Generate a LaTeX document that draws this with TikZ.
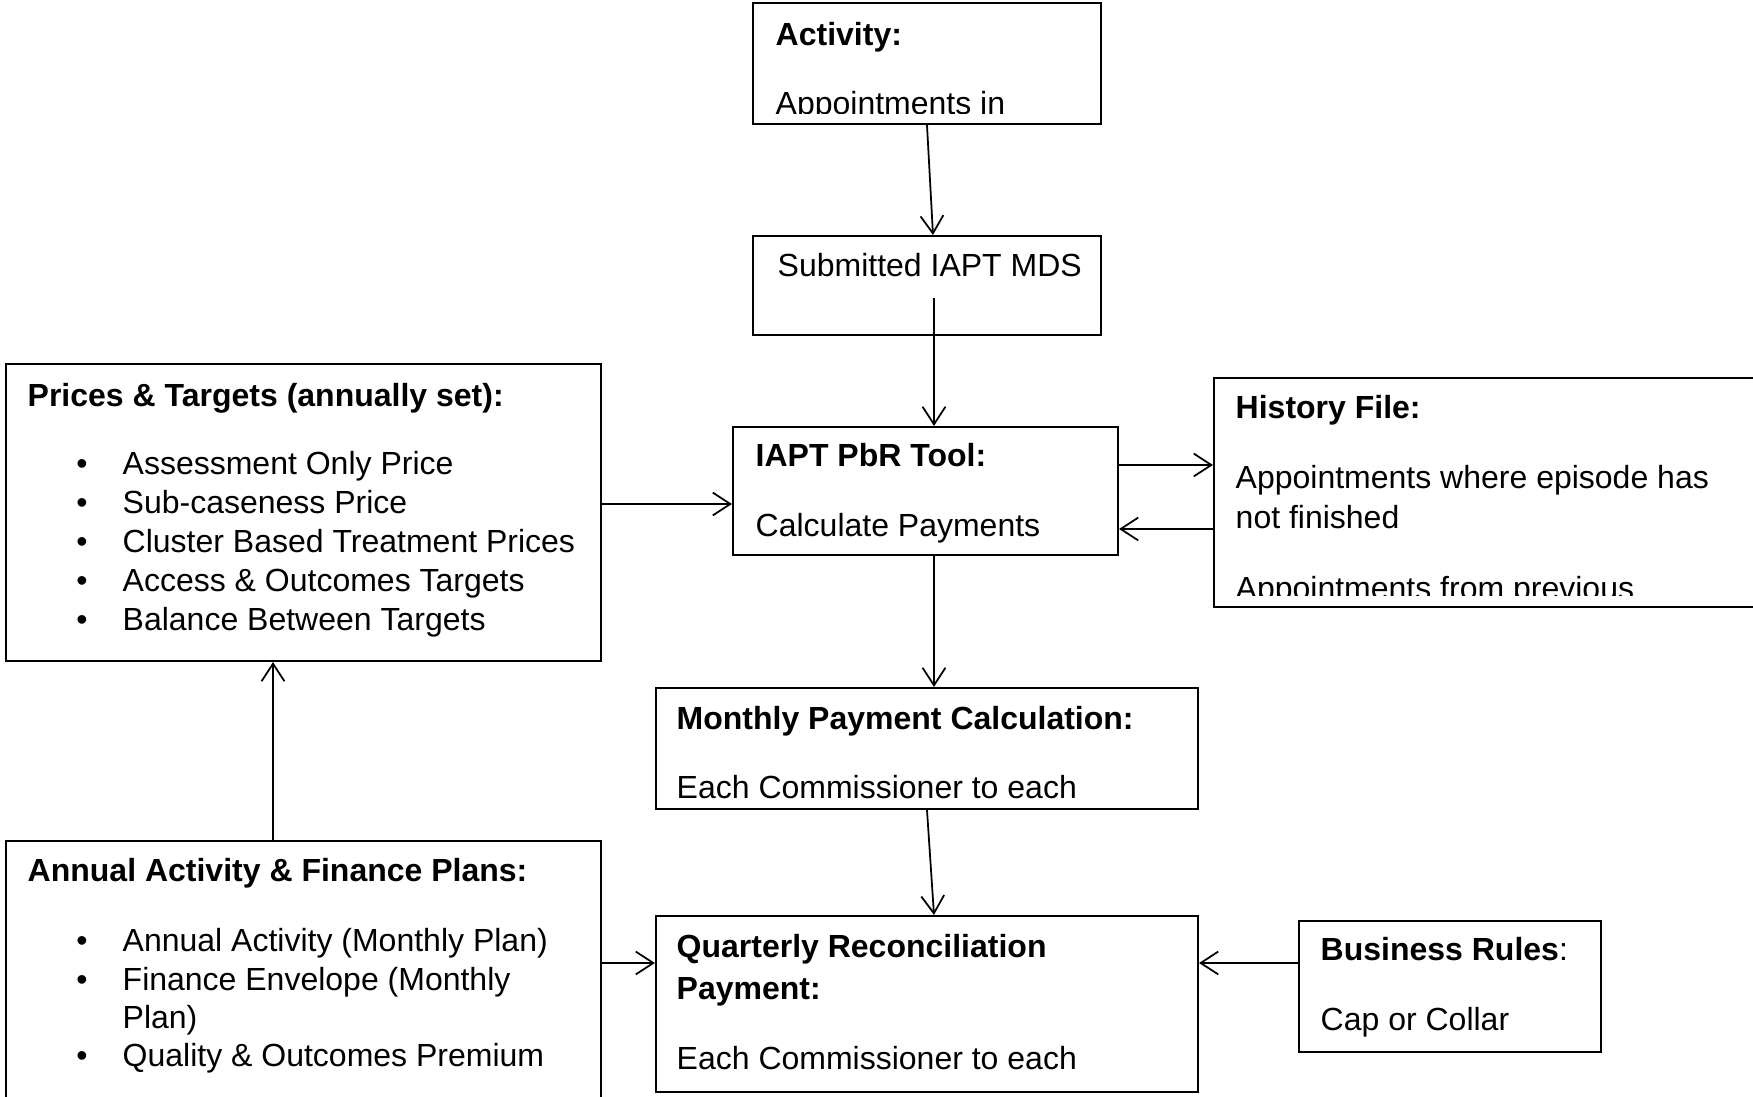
\documentclass[tikz,border=0pt]{standalone}
\usepackage{fontspec}
\setmainfont{Liberation Sans}
\usetikzlibrary{fit,arrows.meta}

\tikzset{
  box/.style={draw, line width=0.6pt, inner sep=0pt},
  txt/.style={anchor=base west, inner sep=0pt, font=\fontsize{9.1}{11}\selectfont},
  head/.style={txt, font=\fontsize{9.1}{11}\selectfont\bfseries},
  dot/.style={txt, anchor=base},
  arr/.style={-{Straight Barb[length=5pt,width=6.5pt]}, line width=0.5pt},
}

\begin{document}
\begin{tikzpicture}[x=0.01cm, y=-0.01cm]
  \useasboundingbox (0,0) rectangle (1753,1097);
  \clip (0,0) rectangle (1753,1097);

  % boxes
  \node[box, fit={(753,3) (1101,124)}] (act) {};
  \node[box, fit={(753,236) (1101,335)}] (sub) {};
  \node[box, fit={(6,364) (601,661)}] (pri) {};
  \node[box, fit={(733,427) (1118,555)}] (pbr) {};
  \node[box, fit={(1214,378) (1770,607)}] (his) {};
  \node[box, fit={(656,688) (1198,809)}] (mon) {};
  \node[box, fit={(656,916) (1198,1092)}] (qua) {};
  \node[box, fit={(1299,921) (1601,1052)}] (bus) {};
  \node[box, fit={(6,841) (601,1120)}] (ann) {};

  % activity (text cut off at the bottom)
  \begin{scope}
    \clip (753,3) rectangle (1101,114);
    \node[head] (act-h) at (775,46) {Activity:};
    \node[txt] (act-t) at (775,115) {Appointments in};
  \end{scope}

  \node[txt] (sub-t) at (777,277) {Submitted IAPT MDS};

  % prices and targets
  \node[head] (pri-h) at (27,407) {Prices \& Targets (annually set):};
  \foreach \yy/\lbl [count=\k] in {475/{Assessment Only Price},
      514/{Sub-caseness Price}, 553/{Cluster Based Treatment Prices},
      592/{Access \& Outcomes Targets}, 631/{Balance Between Targets}} {
    \node[dot] (pri-d\k) at (82,\yy) {\textbullet};
    \node[txt] (pri-t\k) at (122,\yy) {\lbl};
  }

  \node[head] (pbr-h) at (755,467) {IAPT PbR Tool:};
  \node[txt] (pbr-t) at (755,537) {Calculate Payments};

  % history file (text cut off at the bottom)
  \begin{scope}
    \clip (1214,378) rectangle (1753,596);
    \node[head] (his-h) at (1235,419) {History File:};
    \node[txt] (his-t1) at (1235,489) {Appointments where episode has};
    \node[txt] (his-t2) at (1235,529) {not finished};
    \node[txt] (his-t3) at (1235,600) {Appointments from previous};
  \end{scope}

  \node[head] (mon-h) at (676,730) {Monthly Payment Calculation:};
  \node[txt] (mon-t) at (676,799) {Each Commissioner to each};

  \node[head] (qua-h1) at (676,958) {Quarterly Reconciliation};
  \node[head] (qua-h2) at (676,999) {Payment:};
  \node[txt] (qua-t) at (676,1069) {Each Commissioner to each};

  \node[txt] (bus-h) at (1320,961) {\textbf{Business Rules}:};
  \node[txt] (bus-t) at (1320,1031) {Cap or Collar};

  % annual plans
  \node[head] (ann-h) at (27,882) {Annual Activity \& Finance Plans:};
  \foreach \yy/\lbl [count=\k] in {952/{Annual Activity (Monthly Plan)},
      991/{Finance Envelope (Monthly}, 1067/{Quality \& Outcomes Premium}} {
    \node[dot] (ann-d\k) at (82,\yy) {\textbullet};
    \node[txt] (ann-t\k) at (122,\yy) {\lbl};
  }
  \node[txt] (ann-t2b) at (122,1028) {Plan)};

  % connectors
  \coordinate (mid) at (934,298);
  \coordinate (upd) at (273,0);
  \coordinate (r1) at (0,504);
  \coordinate (r2) at (0,465);
  \coordinate (r3) at (0,529);
  \coordinate (r4) at (0,963);
  \draw[arr] (act.south) -- ([xshift=0.06cm]sub.north);
  \draw[arr] (mid) -- (mid |- pbr.north);
  \draw[arr] (mid |- pbr.south) -- (mid |- mon.north);
  \draw[arr] (mon.south) -- ([xshift=0.07cm]qua.north);
  \draw[arr] (pri.east |- r1) -- (pbr.west |- r1);
  \draw[arr] (pbr.east |- r2) -- (his.west |- r2);
  \draw[arr] (his.west |- r3) -- (pbr.east |- r3);
  \draw[arr] (upd |- ann.north) -- (upd |- pri.south);
  \draw[arr] (ann.east |- r4) -- (qua.west |- r4);
  \draw[arr] (bus.west |- r4) -- (qua.east |- r4);
\end{tikzpicture}
\end{document}
